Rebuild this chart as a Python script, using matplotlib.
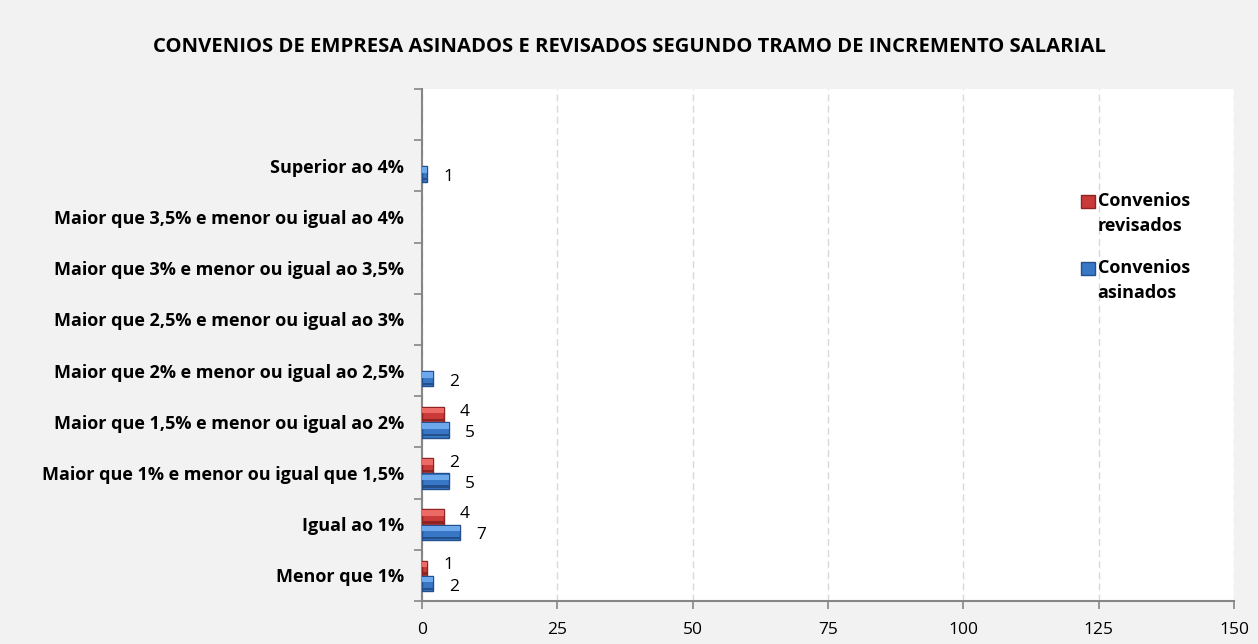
import matplotlib
matplotlib.use("Agg")
import matplotlib.pyplot as plt
from matplotlib.patches import Patch

plt.rcParams['font.family'] = ['Open Sans', 'DejaVu Sans']

categories = [
    "Menor que 1%",
    "Igual ao 1%",
    "Maior que 1% e menor ou igual que 1,5%",
    "Maior que 1,5% e menor ou igual ao 2%",
    "Maior que 2% e menor ou igual ao 2,5%",
    "Maior que 2,5% e menor ou igual ao 3%",
    "Maior que 3% e menor ou igual ao 3,5%",
    "Maior que 3,5% e menor ou igual ao 4%",
    "Superior ao 4%",
    "",
]
asinados = [2, 7, 5, 5, 2, 0, 0, 0, 1, 0]
revisados = [1, 4, 2, 4, 0, 0, 0, 0, 0, 0]
xticks = [0, 25, 50, 75, 100, 125, 150]
title = "CONVENIOS DE EMPRESA ASINADOS E REVISADOS SEGUNDO TRAMO DE INCREMENTO SALARIAL"

red = "#C93A38"
red_dark = "#8E2321"
red_light = "#EC6A66"
blue = "#3877C6"
blue_dark = "#234F8A"
blue_light = "#6EA8EC"

fig = plt.figure(figsize=(12.58, 6.44), dpi=100, facecolor="#F2F2F2")
ax = fig.add_axes([0.3355, 0.0668, 0.6455, 0.7952])
ax.set_facecolor("white")

ys = list(range(len(categories)))
h = 0.3
y_red = [y + 0.14 for y in ys]
y_blue = [y - 0.16 for y in ys]
lw_red = [1.0 if v else 0 for v in revisados]
lw_blue = [1.0 if v else 0 for v in asinados]
ax.barh(y_red, revisados, height=h, color=red, edgecolor=red_dark, linewidth=lw_red, zorder=3)
ax.barh(y_blue, asinados, height=h, color=blue, edgecolor=blue_dark, linewidth=lw_blue, zorder=3)
# bevel highlight (pseudo 3D)
ax.barh([y + h * 0.25 for y in y_red], revisados, height=h * 0.35, color=red_light, linewidth=0, zorder=4)
ax.barh([y + h * 0.25 for y in y_blue], asinados, height=h * 0.35, color=blue_light, linewidth=0, zorder=4)
ax.barh([y - h * 0.35 for y in y_red], revisados, height=h * 0.15, color=red_dark, linewidth=0, zorder=4)
ax.barh([y - h * 0.35 for y in y_blue], asinados, height=h * 0.15, color=blue_dark, linewidth=0, zorder=4)

for y, v in zip(y_red, revisados):
    if v:
        ax.annotate(str(v), (v, y), xytext=(16, 3), textcoords="offset pixels",
                    ha="left", va="center", fontsize=12.5, color="black", zorder=5)
for y, v in zip(y_blue, asinados):
    if v:
        ax.annotate(str(v), (v, y), xytext=(16, -3), textcoords="offset pixels",
                    ha="left", va="center", fontsize=12.5, color="black", zorder=5)

ax.set_xlim(0, 150)
ax.set_ylim(-0.5, len(categories) - 0.5)
ax.set_xticks(xticks)
ax.set_xticklabels([str(t) for t in xticks], fontsize=12.5)
ax.set_yticks(ys)
ax.set_yticklabels(categories, fontsize=13, fontweight="bold")
ax.set_yticks([y - 0.5 for y in ys] + [len(categories) - 0.5], minor=True)
ax.tick_params(axis="y", which="major", length=0, pad=13)
ax.tick_params(axis="y", which="minor", length=6, color="#868686", width=1.2)
ax.tick_params(axis="x", which="major", length=6, color="#868686", width=1.2, pad=9)

for s in ["top", "right"]:
    ax.spines[s].set_visible(False)
for s in ["left", "bottom"]:
    ax.spines[s].set_color("#868686")
    ax.spines[s].set_linewidth(1.5)

ax.grid(axis="x", color="#D9D9D9", linestyle=(0, (5, 3)), linewidth=1.0, zorder=0)
ax.set_axisbelow(True)

fig.text(0.5, 0.927, title, ha="center", va="center", fontsize=14.6, fontweight="bold")

handles = [Patch(facecolor=red, edgecolor=red_dark, label="Convenios\nrevisados"),
           Patch(facecolor=blue, edgecolor=blue_dark, label="Convenios\nasinados")]
leg = ax.legend(handles=handles, loc="upper left", bbox_to_anchor=(0.792, 0.83),
                frameon=False, prop={"weight": "bold", "size": 13},
                handlelength=0.75, handleheight=0.75, handletextpad=0.15, labelspacing=1.3)
for t in leg.get_texts():
    t.set_linespacing(1.5)
for p in leg.get_patches():
    p.set_y(p.get_y() + 9)

fig.savefig("out.png", dpi=100, facecolor=fig.get_facecolor())
